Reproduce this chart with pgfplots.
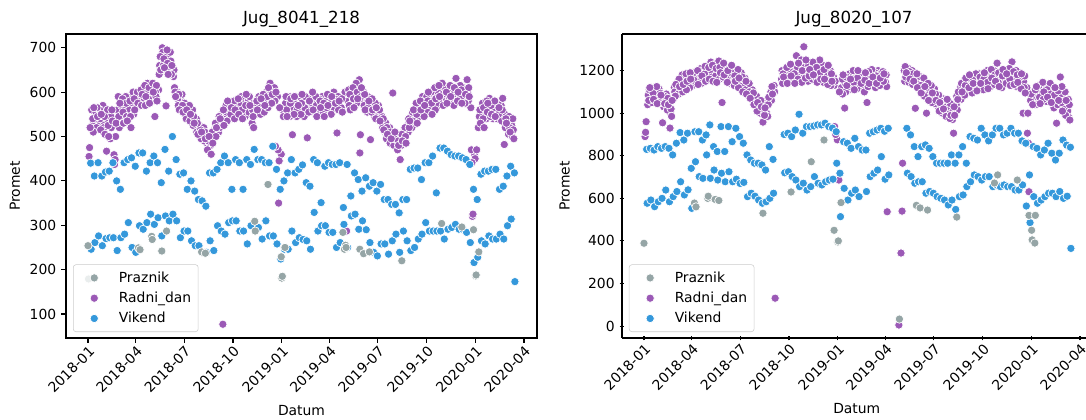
\documentclass[border=0pt]{standalone}
\usepackage{fontspec}
\setmainfont{DejaVu Sans}
\usepackage{pgfplots}
\usepackage{pgfplotstable}
\pgfplotsset{compat=1.18}
\definecolor{cgray}{HTML}{95A5A6}
\definecolor{cpurple}{HTML}{9B59B6}
\definecolor{cblue}{HTML}{3498DB}

% w = week index (week 0 starts Mon 2018-01-01); values per weekday
\pgfplotstableread{
w mon tue wed thu fri sat sun
0 nan nan 455 475 520 440 246
1 560 525 540 510 565 411 261
2 530 555 520 565 545 441 276
3 525 560 540 515 550 411 254
4 570 535 520 545 505 420 270
5 467 540 560 525 500 422 272
6 495 545 520 560 535 441 272
7 459 437 448 500 530 400 243
8 560 590 545 520 575 381 272
9 570 540 585 555 530 441 280
10 560 590 575 545 535 448 306
11 590 560 580 545 520 452 250
12 575 600 550 585 560 433 239
13 565 590 600 575 nan 463 299
14 nan 580 605 570 595 463 291
15 600 585 615 570 590 422 306
16 620 600 585 610 575 441 325
17 595 nan nan 620 600 456 302
18 545 600 590 615 580 441 317
19 605 640 660 680 650 396 276
20 700 690 660 675 655 471 321
21 569 680 695 665 640 422 310
22 650 690 670 640 660 500 325
23 635 650 610 600 590 448 310
24 600 585 570 595 560 415 272
25 580 560 595 570 555 418 287
26 575 550 565 540 560 381 287
27 560 545 570 535 550 400 265
28 540 560 525 545 530 377 254
29 520 540 510 530 505 358 254
30 525 500 515 495 510 355 239
31 500 520 490 510 495 343 239
32 485 470 505 490 500 418 265
33 480 460 495 510 485 418 243
34 515 505 530 500 520 426 299
35 530 510 545 520 540 441 287
36 550 535 77 560 525 456 280
37 545 570 555 535 580 441 306
38 560 540 575 550 565 381 310
39 570 555 580 540 560 448 310
40 575 545 560 585 550 441 287
41 550 570 590 560 540 381 287
42 585 560 545 570 595 448 258
43 560 580 555 590 570 437 299
44 575 530 560 545 520 471 nan
45 nan 570 550 580 560 448 295
46 590 560 575 550 585 448 269
47 565 595 580 555 570 441 310
48 600 575 590 565 610 441 276
49 620 585 600 575 595 478 276
50 590 610 580 478 600 426 258
51 590 470 350 445 565 381 224
52 460 nan nan 560 545 400 246
53 nan 575 590 560 545 418 246
54 560 590 545 575 585 448 287
55 504 565 580 550 590 418 261
56 575 545 560 590 570 426 272
57 560 585 550 575 595 436 268
58 580 545 565 590 nan 396 265
59 497 570 585 555 580 388 246
60 590 565 575 600 560 448 329
61 575 555 590 570 545 441 287
62 560 585 550 580 565 351 299
63 590 570 555 575 545 433 299
64 550 580 565 595 570 441 284
65 585 560 575 550 590 437 284
66 570 600 560 585 575 437 250
67 508 575 590 560 580 441 261
68 590 565 585 555 nan 340 302
69 nan 600 nan nan 287 437 250
70 580 605 570 595 560 366 321
71 600 575 610 585 565 418 325
72 590 620 575 600 585 403 291
73 628 463 504 590 610 377 310
74 585 600 570 595 560 407 290
75 575 555 590 565 580 388 261
76 493 570 555 585 560 396 239
77 560 545 575 540 565 377 231
78 550 570 540 560 535 392 258
79 530 545 520 540 515 358 258
80 510 530 495 520 505 358 235
81 500 520 485 510 495 347 265
82 598 500 480 495 510 347 280
83 485 500 470 490 480 328 239
84 448 495 480 505 490 358 287
85 510 490 520 500 485 358 265
86 525 510 540 520 535 426 243
87 545 520 555 535 560 429 250
88 560 540 575 550 530 429 269
89 575 555 545 580 560 403 280
90 590 560 575 545 570 441 306
91 570 590 555 580 600 441 287
92 585 560 600 575 550 456 287
93 595 575 610 560 585 373 287
94 580 600 570 615 590 474 287
95 600 585 620 595 570 474 269
96 590 610 585 600 575 467 291
97 nan 600 585 615 590 459 295
98 605 580 595 570 610 456 302
99 631 590 605 580 600 456 291
100 595 615 585 605 575 452 291
101 610 585 600 575 595 448 284
102 628 600 580 610 590 437 261
103 565 470 441 320 325 381 216
104 460 450 nan nan 470 358 228
105 520 nan 545 560 530 415 265
106 550 575 540 565 520 422 258
107 565 540 580 555 575 422 276
108 586 560 545 570 550 426 269
109 540 565 555 580 545 426 269
110 560 540 575 550 565 381 280
111 545 570 535 560 586 388 269
112 482 550 520 540 530 411 299
113 530 505 545 520 510 433 314
114 525 500 540 515 495 418 173
}\Ldata

\pgfplotstableread{
d v
0 254
1 179
95 249
98 245
120 275
121 268
139 242
148 287
214 240
221 237
314 309
315 287
339 392
364 229
365 181
366 185
371 250
480 284
483 246
485 255
486 250
512 246
519 236
530 240
591 220
666 304
704 296
726 290
730 186
731 188
736 240
}\Lhol

\pgfplotstableread{
w mon tue wed thu fri sat sun
0 nan nan 890 910 960 830 577
1 1040 1085 1060 1110 1120 835 592
2 1075 1050 1120 1095 1065 827 561
3 1100 1060 1085 1125 1045 843 584
4 1115 1070 1095 1050 1085 835 600
5 955 1060 1030 1080 1045 843 639
6 1090 1055 1015 1070 1040 835 584
7 930 1000 1020 985 1060 804 608
8 1070 1120 1100 1080 1135 859 632
9 1110 1145 1090 1160 1125 909 678
10 1150 1120 1180 1100 1135 874 616
11 1165 1130 1185 1110 1150 906 640
12 1140 1175 1120 1190 1160 741 553
13 1170 1130 1190 1155 nan 913 772
14 nan 1175 1150 1200 1135 913 702
15 1190 1160 1210 1140 1175 874 694
16 1205 1165 1185 1220 1150 898 804
17 1180 nan nan 1215 1160 945 694
18 1240 1195 1170 1225 1150 843 733
19 1200 1230 1175 1210 1145 820 686
20 1185 1245 1160 1215 1190 937 718
21 1050 1205 1170 1235 1180 820 678
22 1190 1160 1215 1145 1200 937 725
23 1170 1210 1140 1190 1225 866 678
24 1160 1195 1130 1175 1150 929 690
25 1180 1140 1205 1120 1165 890 670
26 1150 1190 1125 1170 1100 859 675
27 1135 1165 1110 1150 1090 804 608
28 1120 1085 1140 1100 1070 780 624
29 1090 1110 1060 1095 1040 765 610
30 1060 1030 1080 1010 1050 765 592
31 1020 1045 1000 1060 1030 757 577
32 958 1010 1040 990 1025 733 584
33 1000 1060 985 1040 1075 843 600
34 1080 1100 1060 1125 1090 783 624
35 1130 1100 131 nan nan nan nan
36 nan nan nan nan nan nan nan
37 1160 1200 1140 1185 1170 900 720
38 1150 1195 1170 1215 1140 906 725
39 1180 1210 1155 1230 1175 890 702
40 1200 1165 1225 1185 1140 921 686
41 1270 1190 1215 1160 1235 995 655
42 1175 1220 1250 1145 1200 906 671
43 1312 1180 1215 1165 1250 937 639
44 1190 1150 1225 1175 1205 937 655
45 nan 1210 1160 1240 1180 940 702
46 1195 1230 1165 1215 1145 945 671
47 1220 1170 1250 1190 1160 945 663
48 1180 1225 1145 1205 1160 953 678
49 1210 1150 1190 1135 1225 937 686
50 1160 1200 1130 1185 1150 930 690
51 1170 1130 937 1150 900 913 765
52 875 nan nan 686 1100 718 514
53 nan 1120 1160 1090 1180 866 647
54 1024 1140 1100 1170 1130 859 592
55 1150 1110 1185 1125 1160 835 624
56 1175 1130 1200 1145 1110 882 639
57 1140 1185 1115 1165 1200 843 608
58 1160 1120 1190 1140 nan 827 nan
59 1130 1175 1100 1155 1190 827 632
60 1050 1160 1125 1195 1140 906 702
61 1180 1135 1205 1150 1170 913 718
62 1150 1190 1120 1175 1140 921 733
63 1200 1155 1180 1130 1165 929 796
64 1170 1130 1195 1150 1185 915 690
65 1145 1180 1125 537 nan 929 710
66 nan nan nan nan nan nan nan
67 nan nan nan nan nan nan nan
68 nan nan nan nan 5 nan nan
69 nan 343 nan 540 765 nan nan
70 1200 1150 1219 1170 1190 929 718
71 1180 1210 1145 1195 1160 898 702
72 1165 1200 1135 1185 1150 843 671
73 1023 1170 1140 1185 1120 796 678
74 1150 1110 1172 1130 1095 843 678
75 1140 1100 1165 1080 1125 851 624
76 1000 1120 1085 1140 1060 835 632
77 1110 1070 1130 1050 1095 796 624
78 1080 1115 1045 1090 1060 765 608
79 1060 1030 1085 1010 1050 765 600
80 1040 1070 1000 1055 1020 765 592
81 1010 1050 985 1030 1065 765 569
82 1000 1035 975 1045 990 804 592
83 970 1010 906 1030 990 765 548
84 1040 1080 1015 1065 1100 804 608
85 1090 1120 1065 1140 1100 843 616
86 1110 1150 1085 1130 1165 765 655
87 1140 1100 1165 1120 1180 890 678
88 1125 1170 1095 1155 1140 882 710
89 1160 1120 1185 1135 1105 874 702
90 1150 1185 1120 1170 1140 929 686
91 1135 1175 1110 1160 1190 898 702
92 1170 1130 1200 1145 1115 870 702
93 1185 1150 1125 1205 1165 898 655
94 1160 1200 1135 1180 1150 929 663
95 1235 1170 1145 1190 1125 929 655
96 1150 1195 1120 1175 1205 898 663
97 nan 1165 1200 1140 1185 906 655
98 1180 1145 1210 1160 1130 929 655
99 1241 1175 1150 1195 1135 906 639
100 1160 1200 1125 1180 1145 906 639
101 1190 1140 1170 1115 1185 870 663
102 1000 1150 1120 1175 1095 859 564
103 1120 906 1000 859 631 710 486
104 1060 1090 nan nan 1040 843 608
105 1085 nan 1110 1040 1125 835 577
106 1100 1060 1130 1075 1045 804 592
107 1120 1080 1145 1065 1100 827 608
108 1090 1130 1055 1110 1075 859 624
109 1115 1070 1140 1090 1050 812 624
110 1060 1100 1025 1085 1120 780 608
111 953 1075 1040 1105 1060 812 632
112 1170 1090 1050 1125 1010 874 600
113 1080 1030 1100 990 1060 850 610
114 1010 1065 980 1040 968 840 365
}\Rdata

\pgfplotstableread{
d v
0 389
95 578
98 560
120 600
121 610
134 595
141 590
224 530
277 630
315 772
339 874
358 450
365 395
366 400
371 580
481 33
513 567
520 555
534 545
589 512
660 672
666 710
703 686
725 520
730 450
731 405
736 390
737 520
}\Rhol

\pgfplotsset{
  pt/.style={only marks, mark=*, mark size=3pt,
    mark options={draw=white, line width=0.5pt, fill=#1}, forget plot},
  lg/.style={only marks, mark=*, mark size=3pt,
    mark options={draw=white, line width=0.5pt, fill=#1, fill opacity=1, draw opacity=1}},
  common/.style={
    scale only axis, height=218.88pt,
    xmin=-41.4,
    xtick={0,90,181,273,365,455,546,638,730,821},
    xticklabels={2018-01,2018-04,2018-07,2018-10,2019-01,2019-04,2019-07,2019-10,2020-01,2020-04},
    xticklabel style={rotate=45, anchor=north east, inner sep=1pt, font=\fontsize{10}{12}\selectfont},
    yticklabel style={font=\fontsize{10}{12}\selectfont},
    /pgf/number format/assume math mode=true,
    /pgf/number format/1000 sep={},
    tick align=outside, tick pos=left,
    major tick length=3.5pt,
    every tick/.style={black, line width=0.8pt},
    axis line style={black, line width=0.8pt},
    xlabel={Datum}, ylabel={Promet},
    xlabel style={yshift=-3.5pt},
    label style={font=\fontsize{10}{12}\selectfont},
    title style={font=\fontsize{12}{14}\selectfont, yshift=-4.5pt},
    legend cell align=left,
    legend image code/.code={%
      \draw[#1] plot coordinates {(0pt,0pt)};
      \path (-11.9pt,0pt) (15.5pt,0pt);},
    legend style={at={(0.0149,0.0197)}, anchor=south west,
      draw=black!20, rounded corners=2pt, fill=white, fill opacity=0.8, text opacity=1,
      font=\fontsize{10}{12}\selectfont, row sep=1.5pt, inner sep=3pt},
  }
}

\begin{document}
\begin{tikzpicture}[x=1pt,y=1pt]
\begin{axis}[common, width=339.12pt, xmax=845.6, at={(47.52pt,59.04pt)}, anchor=south west,
  title={Jug\_8041\_218}, ymin=46, ymax=731, ytick={100,200,300,400,500,600,700}]
\addlegendimage{lg=cgray}\addlegendentry{Praznik}
\addlegendimage{lg=cpurple}\addlegendentry{Radni\_dan}
\addlegendimage{lg=cblue}\addlegendentry{Vikend}
\addplot[pt=cpurple] table[x expr=7*\thisrow{w}, y=mon] {\Ldata};
\addplot[pt=cpurple] table[x expr=7*\thisrow{w}+1, y=tue] {\Ldata};
\addplot[pt=cpurple] table[x expr=7*\thisrow{w}+2, y=wed] {\Ldata};
\addplot[pt=cpurple] table[x expr=7*\thisrow{w}+3, y=thu] {\Ldata};
\addplot[pt=cpurple] table[x expr=7*\thisrow{w}+4, y=fri] {\Ldata};
\addplot[pt=cblue] table[x expr=7*\thisrow{w}+5, y=sat] {\Ldata};
\addplot[pt=cblue] table[x expr=7*\thisrow{w}+6, y=sun] {\Ldata};
\addplot[pt=cgray] table[x=d, y=v] {\Lhol};
\end{axis}
% right panel: cropped at the picture's right edge, as in the reference
\begin{axis}[common, width=334.08pt, xmax=832.4, at={(447.84pt,59.04pt)}, anchor=south west,
  axis lines=left, axis line style={-, black, line width=0.8pt},
  xlabel style={xshift=2pt},
  title={Jug\_8020\_107}, ymin=-56, ymax=1372, ytick={0,200,400,600,800,1000,1200},
  after end axis/.code={\draw[black, line width=0.8pt] (rel axis cs:0,1) -- (rel axis cs:1,1);}]
\addlegendimage{lg=cgray}\addlegendentry{Praznik}
\addlegendimage{lg=cpurple}\addlegendentry{Radni\_dan}
\addlegendimage{lg=cblue}\addlegendentry{Vikend}
\addplot[pt=cpurple] table[x expr=7*\thisrow{w}, y=mon] {\Rdata};
\addplot[pt=cpurple] table[x expr=7*\thisrow{w}+1, y=tue] {\Rdata};
\addplot[pt=cpurple] table[x expr=7*\thisrow{w}+2, y=wed] {\Rdata};
\addplot[pt=cpurple] table[x expr=7*\thisrow{w}+3, y=thu] {\Rdata};
\addplot[pt=cpurple] table[x expr=7*\thisrow{w}+4, y=fri] {\Rdata};
\addplot[pt=cblue] table[x expr=7*\thisrow{w}+5, y=sat] {\Rdata};
\addplot[pt=cblue] table[x expr=7*\thisrow{w}+6, y=sun] {\Rdata};
\addplot[pt=cgray] table[x=d, y=v] {\Rhol};
\end{axis}
\pgfresetboundingbox
\useasboundingbox (0,0) rectangle (781.92,302.4);
\end{tikzpicture}
\end{document}
